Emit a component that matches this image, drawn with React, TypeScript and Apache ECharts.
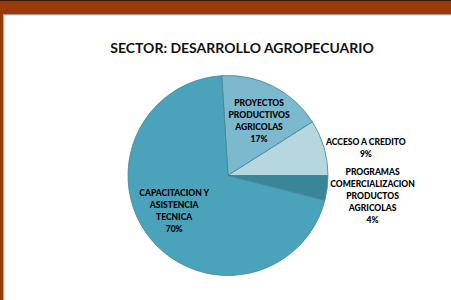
import React, { useEffect, useRef } from "react";
import * as echarts from "echarts";

const categories = [
  "PROYECTOS\nPRODUCTIVOS\nAGRICOLAS",
  "ACCESO A CREDITO",
  "PROGRAMAS\nCOMERCIALIZACION\nPRODUCTOS\nAGRICOLAS",
  "CAPACITACION Y\nASISTENCIA\nTECNICA",
];
const values = [17, 9, 4, 70];
const colors = ["#7DB9CE", "#B6D6E0", "#3A8598", "#4AA3BA"];
const labelShift = [
  [7, -7],
  [87, -13],
  [92, 14],
  [-13, 2],
];

export default function App() {
  const ref = useRef<HTMLDivElement>(null);
  useEffect(() => {
    document.body.style.margin = "0";
    const chart = echarts.init(ref.current!, undefined, { renderer: "svg" });
    chart.setOption({
      animation: false,
      backgroundColor: "#ffffff",
      title: {
        text: "SECTOR: DESARROLLO AGROPECUARIO",
        left: 237,
        top: 35,
        textAlign: "center",
        textStyle: {
          fontFamily: "Lato",
          fontWeight: "bold",
          fontSize: 14,
          color: "#111111",
        },
      },
      graphic: [
        { type: "rect", shape: { x: 0, y: 0, width: 451, height: 14 }, style: { fill: "#9A3A08" } },
        { type: "rect", shape: { x: 0, y: 0, width: 451, height: 1 }, style: { fill: "#3a1a08" } },
        { type: "rect", shape: { x: 3, y: 14, width: 448, height: 1.2 }, style: { fill: "#9a9a9a" } },
        { type: "rect", shape: { x: 0, y: 14, width: 3, height: 286 }, style: { fill: "#9A3A08" } },
        { type: "rect", shape: { x: 3, y: 14, width: 1.2, height: 286 }, style: { fill: "#b0b0b0" } },
      ],
      series: [
        {
          type: "pie",
          center: [228, 175.5],
          radius: 100,
          startAngle: 93.6,
          clockwise: true,
          avoidLabelOverlap: false,
          itemStyle: { borderColor: "#3E8497", borderWidth: 0.8 },
          label: {
            show: true,
            position: "inside",
            formatter: (p: any) => `${p.name}\n${Math.round(p.percent)}%`,
            fontFamily: "Lato",
            fontWeight: 900,
            fontSize: 8.5,
            lineHeight: 12,
            color: "#000000",
            align: "center",
          },
          labelLine: { show: false },
          labelLayout: (p: any) => ({
            dx: labelShift[p.dataIndex][0],
            dy: labelShift[p.dataIndex][1],
          }),
          emphasis: { disabled: true },
          data: categories.map((c, i) => ({
            name: c,
            value: values[i],
            itemStyle: { color: colors[i] },
          })),
        },
      ],
    });
    return () => chart.dispose();
  }, []);
  return (
    <div
      ref={ref}
      style={{ width: 451, height: 300, position: "absolute", left: 0, top: 0 }}
    />
  );
}
